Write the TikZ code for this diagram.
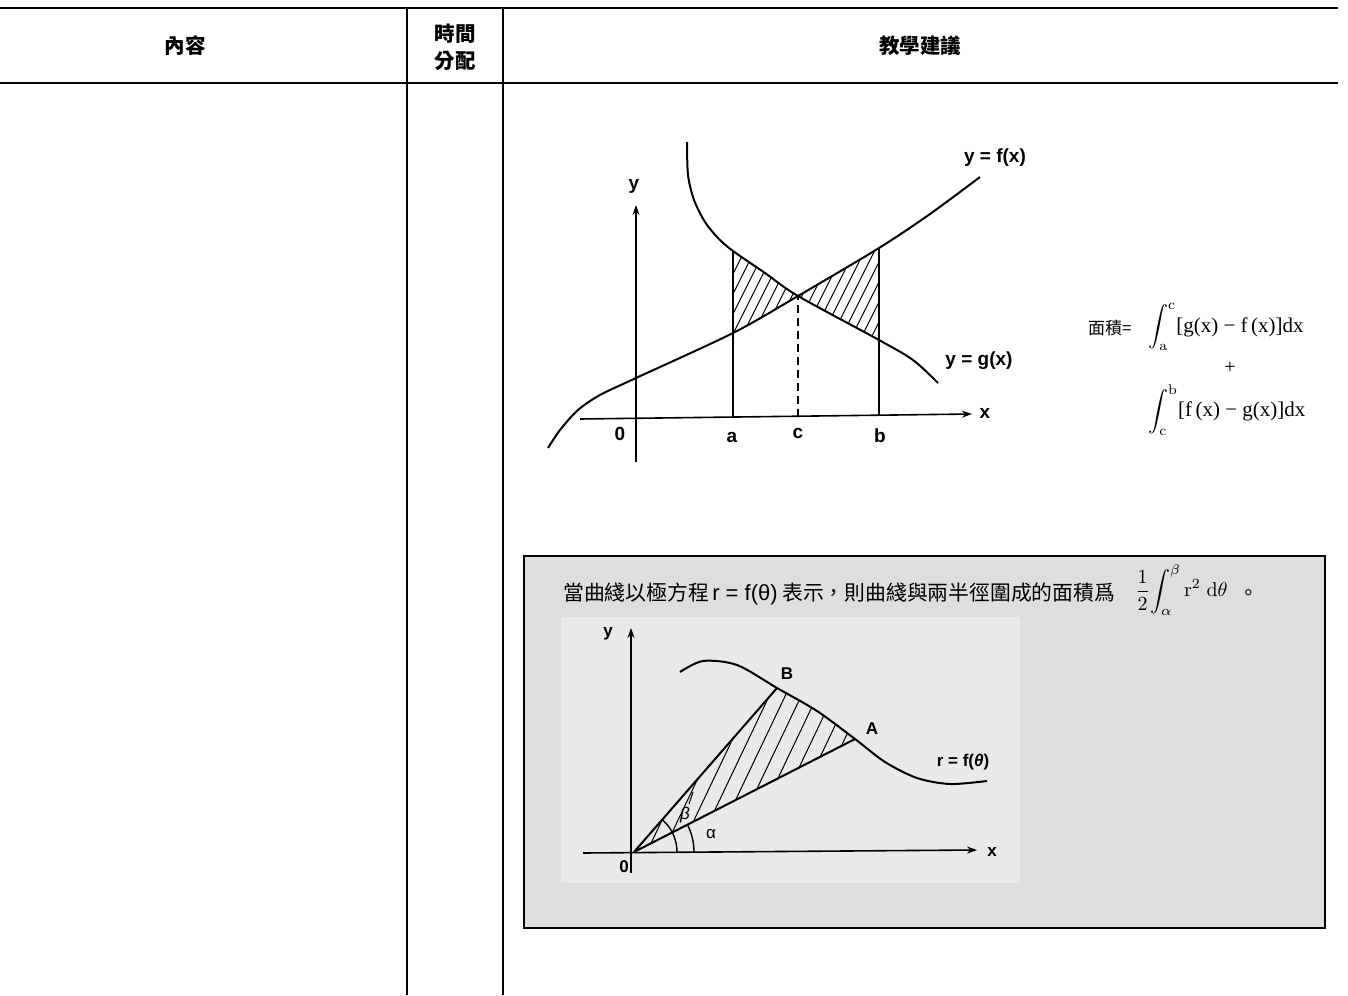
\RequirePackage{fix-cm}
\documentclass[tikz,border=0pt]{standalone}
\usepackage{fontspec}
\usetikzlibrary{arrows.meta}
\newfontfamily\cjk{Noto Sans CJK TC}
\newfontfamily\lsans{Liberation Sans}
\newfontfamily\lserif{Liberation Serif}
\definecolor{boxbg}{RGB}{222,222,222}
\definecolor{figbg}{RGB}{233,233,233}
\begin{document}
\begin{tikzpicture}[x=1pt,y=-1pt,
  hdr/.style={font=\cjk\bfseries\fontsize{20.5}{27}\selectfont, align=center, inner sep=0},
  lbl/.style={font=\lsans\bfseries\fontsize{19}{22}\selectfont, inner sep=0},
  lblb/.style={font=\lsans\bfseries\fontsize{17}{20}\selectfont, inner sep=0},
  curve/.style={line width=2pt},
  hatch/.style={line width=1pt},
  axis/.style={line width=1.6pt, -{Stealth[length=10pt,width=7pt]}},
  rule/.style={line width=2.6pt},
  vrule/.style={line width=1.3pt}]
\useasboundingbox (0,0) rectangle (1348,995);
% ---------- table ----------
\draw[rule] (0,8) -- (1338,8);
\draw[rule] (0,83) -- (1338,83);
\draw[vrule] (407,8) -- (407,995);
\draw[vrule] (503,8) -- (503,995);
\node[hdr] (h1) at (185,46) {內容};
\node[hdr] (h2) at (455,47) {時間\\分配};
\node[hdr] (h3) at (920,46) {教學建議};
% ---------- graph 1 ----------
\begin{scope}
  \clip (733,100) rectangle (798,460);
  \clip plot[smooth] coordinates {(687,142) (688,175) (694,200) (705,222) (718,238) (733,251) (765,273) (798,296) (879,340) (913,360) (938,383)} -- (938,500) -- (600,500) -- (600,142) -- cycle;
  \clip plot[smooth] coordinates {(548,448) (560,430) (578,410) (600,395) (636,378) (733,333) (798,296) (879,248) (930,214) (980,177)} -- (980,100) -- (548,100) -- cycle;
  \foreach \k in {0,...,32} \draw[hatch] (560+\k*10,460) -- ++(150,-300);
\end{scope}
\begin{scope}
  \clip (798,100) rectangle (879,460);
  \clip plot[smooth] coordinates {(548,448) (560,430) (578,410) (600,395) (636,378) (733,333) (798,296) (879,248) (930,214) (980,177)} -- (980,500) -- (548,500) -- cycle;
  \clip plot[smooth] coordinates {(687,142) (688,175) (694,200) (705,222) (718,238) (733,251) (765,273) (798,296) (879,340) (913,360) (938,383)} -- (938,100) -- (600,100) -- cycle;
  \foreach \k in {0,...,32} \draw[hatch] (560+\k*10,460) -- ++(150,-300);
\end{scope}
\draw[curve] plot[smooth] coordinates {(548,448) (560,430) (578,410) (600,395) (636,378) (733,333) (798,296) (879,248) (930,214) (980,177)};
\draw[curve] plot[smooth] coordinates {(687,142) (688,175) (694,200) (705,222) (718,238) (733,251) (765,273) (798,296) (879,340) (913,360) (938,383)};
\coordinate (xs) at (580,419);
\coordinate (xe) at (972,414);
\coordinate (ys) at (636,462);
\coordinate (ye) at (636,205);
\draw[axis] (xs) -- (xe);
\draw[axis] (ys) -- (ye);
\coordinate (aB) at (733,417); \coordinate (aT) at (733,251);
\coordinate (cB) at (798,417); \coordinate (cT) at (798,296);
\coordinate (bB) at (879,415); \coordinate (bT) at (879,248);
\draw[line width=1.4pt] (aB) -- (aT);
\draw[line width=1.4pt] (bB) -- (bT);
\draw[line width=1.4pt, dash pattern=on 8pt off 5pt] (cB) -- (cT);
\node[lbl] (ly) at (634,186) {y};
\node[lbl] (lx) at (985,413) {x};
\node[lbl] (l0) at (620,434) {0};
\node[lbl] (la) at (732,437) {a};
\node[lbl] (lc) at (798,433) {c};
\node[lbl] (lb) at (880,436) {b};
\node[lbl] (lf) at (995,158) {y = f(x)};
\node[lbl] (lg) at (979,361) {y = g(x)};
% ---------- area formula ----------
\node[font=\cjk\fontsize{17}{20}\selectfont, anchor=base west, inner sep=0] (m0) at (1088,334) {面積=};
\node[font=\lserif\fontsize{21}{24}\selectfont, anchor=west, inner sep=0] (m1) at (1148,327) {\scalebox{2}{\normalsize$\displaystyle\int_{\mathrm{a}}^{\mathrm{c}}$}[g(x) − f\,(x)]dx};
\node[font=\lserif\fontsize{20}{24}\selectfont, inner sep=0] (mp) at (1230,368) {+};
\node[font=\lserif\fontsize{21}{24}\selectfont, anchor=west, inner sep=0] (m2) at (1148,410) {\scalebox{2}{\normalsize$\displaystyle\int_{\mathrm{c}}^{\mathrm{b}}$}[f\,(x) − g(x)]dx};
% ---------- polar box ----------
\draw[line width=1.8pt, fill=boxbg] (524,556) rectangle (1325,928);
\fill[figbg] (561,617) rectangle (1020,883);
\node[font=\cjk\fontsize{20.8}{25}\selectfont, anchor=base west, inner sep=0] (t1) at (563,600) {當曲綫以極方程\,{\lsans\fontsize{22}{25}\selectfont r = f(θ)} 表示，則曲綫與兩半徑圍成的面積爲};
\node[anchor=west, inner sep=0] (t2) at (1135,590) {\scalebox{2}{$\displaystyle\frac{1}{2}\!\int_{\alpha}^{\beta}\mathrm{r}^{2}\;\mathrm{d}\theta$}};
\node[font=\cjk\fontsize{20.5}{25}\selectfont, anchor=base west, inner sep=0] (t3) at (1238,600) {。};
% graph 2
\coordinate (O) at (634,852);
\coordinate (A) at (855,739);
\coordinate (B) at (777,688);
\begin{scope}
  \clip (O) -- (1076,626) -- (920,524) -- cycle;
  \clip plot[smooth] coordinates {(680,672) (703,661) (737,665) (777,688) (817,711) (855,739) (885,762) (917,778) (950,784) (987,781)} -- (987,900) -- (600,900) -- (600,672) -- cycle;
  \foreach \k in {0,...,26} \draw[hatch] (560+\k*16,900) -- ++(150,-315);
\end{scope}
\draw[curve] plot[smooth] coordinates {(680,672) (703,661) (737,665) (777,688) (817,711) (855,739) (885,762) (917,778) (950,784) (987,781)};
\draw[curve] (O) -- (A);
\draw[curve] (O) -- (B);
\coordinate (pxs) at (583,853);
\coordinate (pxe) at (977,850);
\coordinate (pys) at (631,873);
\coordinate (pye) at (631,628);
\draw[axis] (pxs) -- (pxe);
\draw[axis] (pys) -- (pye);
\draw[line width=1.4pt] (677,852) arc[start angle=0, end angle=48.6, radius=43pt];
\draw[line width=1.4pt] (694,852) arc[start angle=0, end angle=26.9, radius=60pt];
\coordinate (bt1) at (693,792);
\coordinate (bt2) at (689,804);
\draw[line width=1pt] (bt1) -- (bt2);
\node[font=\lsans\itshape\fontsize{17}{18}\selectfont, inner sep=0] (lbeta) at (685,815) {β};
\node[font=\lsans\fontsize{17}{18}\selectfont, inner sep=0] (lalpha) at (711,834) {α};
\node[lblb] (py) at (608,634) {y};
\node[lblb] (p0) at (624,867) {0};
\node[lblb] (px) at (992,852) {x};
\node[lblb] (pB) at (787,674) {B};
\node[lblb] (pA) at (872,729) {A};
\node[lblb] (pr) at (963,762) {r = f({\itshape θ})};
\end{tikzpicture}
\end{document}
